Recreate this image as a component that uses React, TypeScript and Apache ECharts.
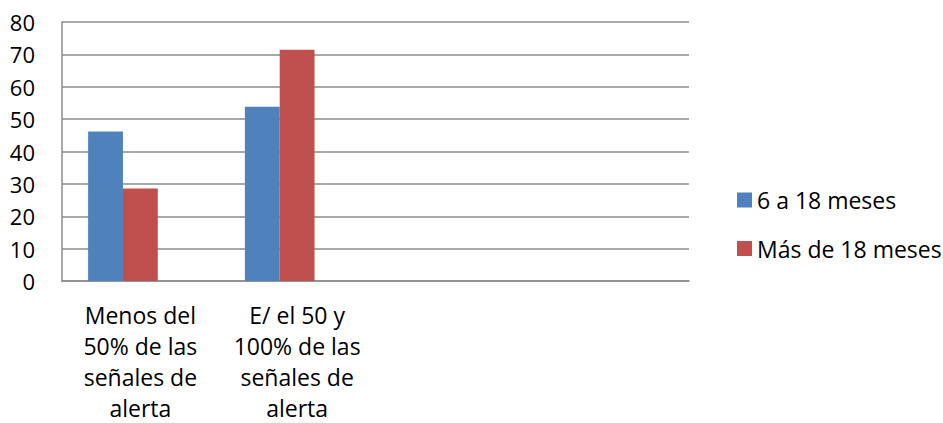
import React, { useEffect, useRef } from "react";
import * as echarts from "echarts";

const categories = [
  "Menos del\n50% de las\nseñales de\nalerta",
  "E/ el 50 y\n100% de las\nseñales de\nalerta",
  "",
  "",
];
const seriesNames = ["6 a 18 meses", "Más de 18 meses"];
const serie6a18 = [46.15, 53.85, null, null];
const serieMas18 = [28.57, 71.43, null, null];
const serieVacia = [null, null, null, null];
const yTicks = { min: 0, max: 80, interval: 10 };

const FONT = "Open Sans";

export default function App() {
  const ref = useRef<HTMLDivElement>(null);
  useEffect(() => {
    if (!ref.current) return;
    const chart = echarts.init(ref.current, undefined, { renderer: "svg" });
    chart.setOption({
      animation: false,
      backgroundColor: "#ffffff",
      textStyle: { fontFamily: FONT, color: "#000" },
      grid: { left: 62, right: 254, top: 22, bottom: 142, containLabel: false },
      legend: {
        orient: "vertical",
        left: 732,
        top: 183.5,
        data: seriesNames,
        icon: "rect",
        itemWidth: 15,
        itemHeight: 15,
        itemGap: 25.5,
        textStyle: { fontFamily: FONT, fontSize: 23, color: "#000", lineHeight: 23 },
      },
      xAxis: {
        type: "category",
        data: categories,
        axisLine: { show: true, lineStyle: { color: "#8c8c8c", width: 1.5 } },
        axisTick: { show: false },
        axisLabel: {
          interval: 0,
          fontFamily: FONT,
          fontSize: 23,
          lineHeight: 31,
          color: "#000",
          margin: 18,
          align: "center",
        },
      },
      yAxis: {
        type: "value",
        min: yTicks.min,
        max: yTicks.max,
        interval: yTicks.interval,
        axisLine: { show: true, lineStyle: { color: "#8c8c8c", width: 1.5 } },
        axisTick: { show: false },
        splitLine: { show: true, lineStyle: { color: "#8c8c8c", width: 1.5 } },
        axisLabel: { fontFamily: FONT, fontSize: 22, color: "#000", margin: 27 },
      },
      series: [
        {
          name: seriesNames[0],
          type: "bar",
          data: serie6a18,
          barGap: "0%",
          barCategoryGap: "33.33%",
          itemStyle: { color: "#4F81BD" },
        },
        {
          name: seriesNames[1],
          type: "bar",
          data: serieMas18,
          barGap: "0%",
          barCategoryGap: "33.33%",
          itemStyle: { color: "#C0504D" },
        },
        {
          name: "",
          type: "bar",
          data: serieVacia,
          barGap: "0%",
          barCategoryGap: "33.33%",
          itemStyle: { color: "#9BBB59" },
        },
      ],
    });
    return () => chart.dispose();
  }, []);
  return (
    <div
      ref={ref}
      style={{ position: "absolute", left: 0, top: 0, width: 943, height: 423 }}
    />
  );
}
